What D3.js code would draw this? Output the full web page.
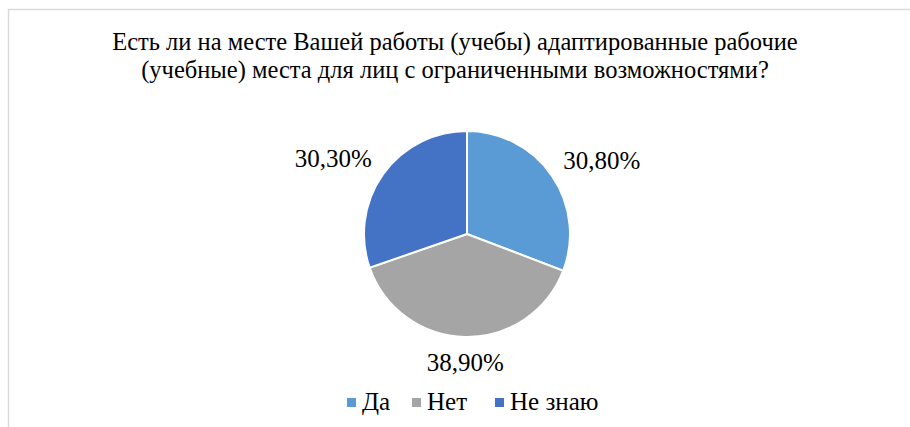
<!DOCTYPE html>
<html>
<head>
<meta charset="utf-8">
<script src="https://d3js.org/d3.v7.min.js"></script>
<style>
  body { margin: 0; background: #fff; }
</style>
</head>
<body>
<div id="chart"></div>
<script>
// data
var categories = ["Да", "Нет", "Не знаю"];
var values = [30.8, 38.9, 30.3];
var valueLabels = ["30,80%", "38,90%", "30,30%"];
var colors = ["#5B9BD5", "#A5A5A5", "#4472C4"];
var titleLines = ["Есть ли на месте Вашей работы (учебы) адаптированные рабочие",
                  "(учебные) места для лиц с ограниченными возможностями?"];

var width = 910, height = 427;
var cx = 467, cy = 234, radius = 103;

var svg = d3.select("#chart").append("svg")
    .attr("width", width)
    .attr("height", height)
    .attr("font-family", "Liberation Serif");

// chart border (runs off the right / bottom edge)
svg.append("rect")
    .attr("x", 8.5).attr("y", 9.5)
    .attr("width", 920).attr("height", 440)
    .attr("fill", "none")
    .attr("stroke", "#d9d9d9")
    .attr("stroke-width", 1.5);

// title
svg.append("g").selectAll("text")
    .data(titleLines)
  .enter().append("text")
    .attr("x", 455)
    .attr("y", function(d, i) { return 50 + i * 28; })
    .attr("text-anchor", "middle")
    .attr("font-family", "Liberation Serif")
    .attr("font-size", 24.5)
    .text(function(d) { return d; });

// pie
var pie = d3.pie().sort(null).value(function(d) { return d; });
var arcs = pie(values);
var arc = d3.arc().innerRadius(0).outerRadius(radius);

var g = svg.append("g").attr("transform", "translate(" + cx + "," + cy + ")");

g.selectAll("path")
    .data(arcs)
  .enter().append("path")
    .attr("d", arc)
    .attr("fill", function(d, i) { return colors[i]; })
    .attr("stroke", "#fff")
    .attr("stroke-width", 2);

// outside labels
g.selectAll("text.lbl")
    .data(arcs)
  .enter().append("text")
    .attr("class", "lbl")
    .each(function(d, i) {
        var a = (d.startAngle + d.endAngle) / 2;
        var dx = Math.sin(a), dy = -Math.cos(a);
        var r = radius + 14;
        var x = dx * r, y = dy * r;
        var anchor = dx > 0.3 ? "start" : (dx < -0.3 ? "end" : "middle");
        d3.select(this)
            .attr("x", x)
            .attr("y", y + 8 + 12 * dy)
            .attr("text-anchor", anchor)
            .attr("font-family", "Liberation Serif")
            .attr("font-size", 25)
            .text(valueLabels[i]);
    });

// legend
var legendX = [347, 412, 495];
var legend = svg.append("g").selectAll("g")
    .data(categories)
  .enter().append("g")
    .attr("transform", function(d, i) { return "translate(" + legendX[i] + ",398)"; });

legend.append("rect")
    .attr("width", 9).attr("height", 9)
    .attr("fill", function(d, i) { return colors[i]; });

legend.append("text")
    .attr("x", 15)
    .attr("y", 12)
    .attr("font-family", "Liberation Serif")
    .attr("font-size", 25)
    .text(function(d) { return d; });
</script>
</body>
</html>
